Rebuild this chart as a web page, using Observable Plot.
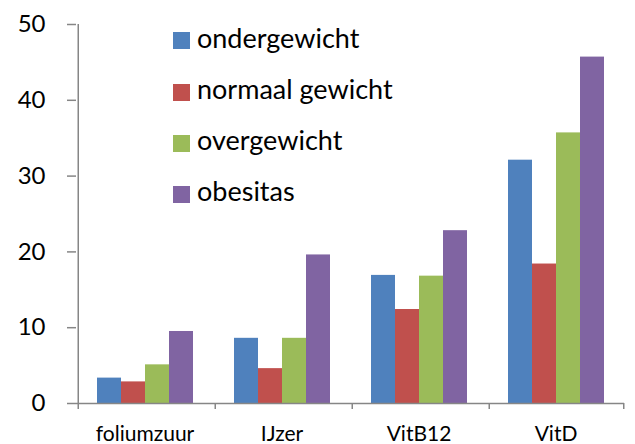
<!DOCTYPE html>
<html><head><meta charset="utf-8">
<script src="https://cdn.jsdelivr.net/npm/d3@7"></script>
<script src="https://cdn.jsdelivr.net/npm/@observablehq/plot@0.6"></script>
<style>
body{margin:0;background:#fff;}
#wrap{position:relative;width:635px;height:444px;font-family:Lato,sans-serif;}
#legend{position:absolute;left:173px;top:15.4px;}
.row{display:flex;align-items:center;height:51.2px;font-size:27px;color:#000;}
.sw{width:17px;height:17px;margin-right:7px;flex:none;}
.row span{position:relative;top:-3px;line-height:1.2;}
</style></head>
<body><div id="wrap"><div id="legend"></div></div>
<script>
const categories = ["foliumzuur", "IJzer", "VitB12", "VitD"];
const series = ["ondergewicht", "normaal gewicht", "overgewicht", "obesitas"];
const ondergewicht = [3.35, 8.6, 16.9, 32.1];
const normaalGewicht = [2.85, 4.6, 12.4, 18.4];
const overgewicht = [5.1, 8.6, 16.8, 35.7];
const obesitas = [9.5, 19.6, 22.8, 45.7];
const yTicks = [0, 10, 20, 30, 40, 50];
const colors = ["#4F81BD", "#C0504D", "#9BBB59", "#8064A2"];
const axisColor = "#868686";

const values = [ondergewicht, normaalGewicht, overgewicht, obesitas];
const data = categories.flatMap((c, i) => series.map((s, j) => ({category: c, series: s, value: values[j][i]})));

const W = 635, H = 444, ML = 75, MR = 10, MT = 24, MB = 41;
const facetW = (W - ML - MR) / categories.length;
const padOuter = 0.75;
const step = facetW / (series.length + 2 * padOuter);
const edge = step * padOuter + step / 2;

const plot = Plot.plot({
  width: W, height: H, marginLeft: ML, marginRight: MR, marginTop: MT, marginBottom: MB,
  style: {fontFamily: "Lato, sans-serif", background: "#fff", color: "#000"},
  fx: {domain: categories, padding: 0, label: null},
  x: {domain: series, paddingInner: 0, paddingOuter: padOuter, axis: null},
  y: {domain: [0, 50], axis: null},
  color: {domain: series, range: colors},
  marks: [
    Plot.barY(data, {fx: "category", x: "series", y: "value", fill: "series"}),
    Plot.ruleY([0], {stroke: axisColor, strokeWidth: 1.5}),
    Plot.ruleX([categories[0]], {fx: d => d, x: () => series[0], dx: -edge, y1: 0, y2: 50, stroke: axisColor, strokeWidth: 1.5}),
    Plot.ruleX(categories, {fx: d => d, x: () => series[0], dx: -edge, y1: 0, y2: 0, insetBottom: -6, stroke: axisColor, strokeWidth: 1.5}),
    Plot.ruleX([categories[categories.length - 1]], {fx: d => d, x: () => series[series.length - 1], dx: edge, y1: 0, y2: 0, insetBottom: -6, stroke: axisColor, strokeWidth: 1.5}),
    Plot.axisY({ticks: yTicks, tickSize: 9, tickPadding: 22, fontSize: 24, stroke: axisColor, fill: "#000", strokeWidth: 1.5, label: null}),
    Plot.axisFx({anchor: "bottom", tickSize: 0, tickPadding: 23, fontSize: 21, fill: "#000", label: null})
  ]
});
document.getElementById("wrap").prepend(plot);

const legend = document.getElementById("legend");
series.forEach((s, i) => {
  const row = document.createElement("div");
  row.className = "row";
  row.innerHTML = `<div class="sw" style="background:${colors[i]}"></div><span>${s}</span>`;
  legend.appendChild(row);
});
</script>
</body></html>
